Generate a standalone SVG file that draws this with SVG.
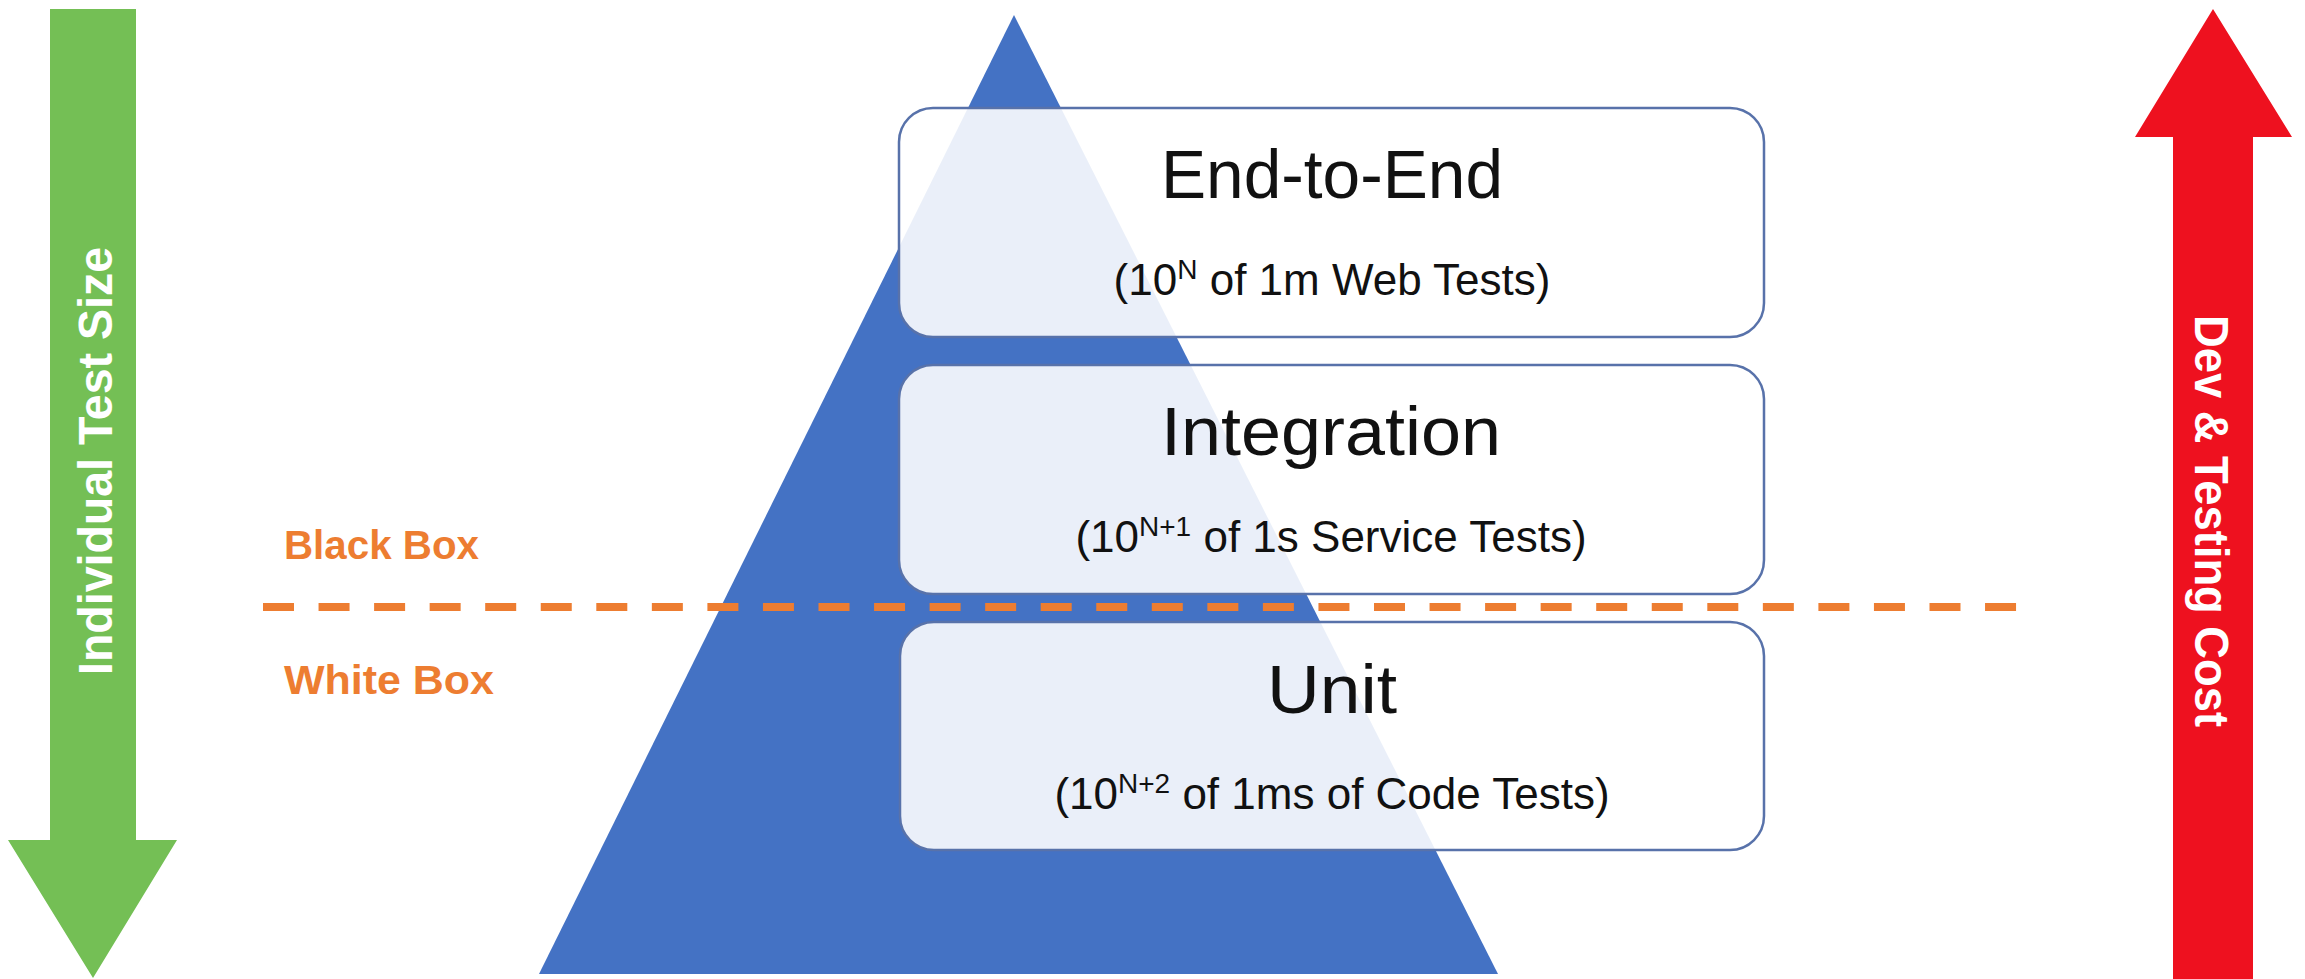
<svg xmlns="http://www.w3.org/2000/svg" width="2305" height="979" viewBox="0 0 2305 979">
<style>
.box{fill:#ffffff;fill-opacity:0.89;stroke:#5872AA;stroke-width:2.5}
.title{font-family:"Liberation Sans",Arial,sans-serif;font-size:68px;fill:#111111;text-anchor:middle}
.sub{font-family:"Liberation Sans",Arial,sans-serif;font-size:44px;fill:#111111;text-anchor:middle}
.sup{font-size:28px}
.side{font-family:"Liberation Sans",Arial,sans-serif;font-weight:bold;font-size:48px;fill:#ffffff;text-anchor:middle}
.bw{font-family:"Liberation Sans",Arial,sans-serif;font-weight:bold;font-size:40px;fill:#ED7D31}
</style>
<rect width="2305" height="979" fill="#ffffff"/>
<g id="size-arrow">
<polygon points="50,9 136,9 136,840 177,840 93,978 8,840 50,840" fill="#74BF55"/>
<text class="side" transform="translate(112,461) rotate(-90)" textLength="428" lengthAdjust="spacingAndGlyphs">Individual Test Size</text>
</g>
<g id="cost-arrow">
<polygon points="2213,9 2292,137 2253,137 2253,979 2173,979 2173,137 2135,137" fill="#EE111F"/>
<text class="side" transform="translate(2195,521) rotate(90)" textLength="412" lengthAdjust="spacingAndGlyphs">Dev &amp; Testing Cost</text>
</g>
<g id="pyramid">
<polygon points="1014,15 1498,974 539,974" fill="#4472C4"/>
</g>
<g id="connectors">
<line x1="263" y1="607" x2="2017" y2="607" stroke="#ED7D31" stroke-width="8" stroke-dasharray="31 24.55"/>
</g>
<g id="black-box-label">
<text class="bw" x="284" y="559" textLength="195" lengthAdjust="spacingAndGlyphs">Black Box</text>
</g>
<g id="white-box-label">
<text class="bw" x="284" y="694" textLength="210" lengthAdjust="spacingAndGlyphs">White Box</text>
</g>
<g id="end-to-end">
<rect class="box" x="899" y="108" width="865" height="229" rx="34"/>
<text class="title" x="1332" y="198" textLength="342" lengthAdjust="spacingAndGlyphs">End-to-End</text>
<text class="sub" x="1332" y="295">(10<tspan class="sup" dy="-16">N</tspan><tspan dy="16"> of 1m Web Tests)</tspan></text>
</g>
<g id="integration">
<rect class="box" x="899" y="365" width="865" height="229" rx="34"/>
<text class="title" x="1331" y="455" textLength="340" lengthAdjust="spacingAndGlyphs">Integration</text>
<text class="sub" x="1331" y="552">(10<tspan class="sup" dy="-16">N+1</tspan><tspan dy="16"> of 1s Service Tests)</tspan></text>
</g>
<g id="unit">
<rect class="box" x="900" y="622" width="864" height="228" rx="34"/>
<text class="title" x="1332" y="713" textLength="130" lengthAdjust="spacingAndGlyphs">Unit</text>
<text class="sub" x="1332" y="809">(10<tspan class="sup" dy="-16">N+2</tspan><tspan dy="16"> of 1ms of Code Tests)</tspan></text>
</g>
</svg>
